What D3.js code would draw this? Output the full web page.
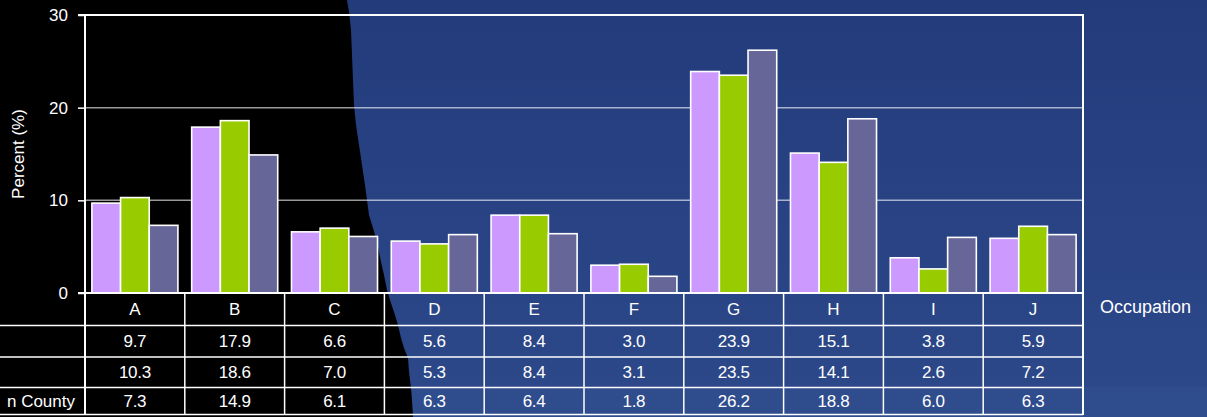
<!DOCTYPE html>
<html>
<head>
<meta charset="utf-8">
<script src="https://cdn.jsdelivr.net/npm/d3@7"></script>
<style>
  html, body { margin: 0; padding: 0; background: #243c7c; overflow: hidden; }
  svg text { font-family: "Liberation Sans", Arial, sans-serif; fill: #fff; }
</style>
</head>
<body>
<svg id="chart" width="1207" height="417"></svg>
<script>
// categories + series
const categories = ["A", "B", "C", "D", "E", "F", "G", "H", "I", "J"];
const seriesLabels = ["", "", "n County"];
const series1 = [9.7, 17.9, 6.6, 5.6, 8.4, 3.0, 23.9, 15.1, 3.8, 5.9];
const series2 = [10.3, 18.6, 7.0, 5.3, 8.4, 3.1, 23.5, 14.1, 2.6, 7.2];
const series3 = [7.3, 14.9, 6.1, 6.3, 6.4, 1.8, 26.2, 18.8, 6.0, 6.3];
const yTicks = [0, 10, 20, 30];
const seriesColors = ["#cc99ff", "#99cc00", "#666699"];

// torn edge of the black backdrop
const tearEdge = [
  [347, 0], [349, 12], [351, 30], [352, 55], [353, 80], [354, 105], [356, 125],
  [359, 145], [362, 165], [365, 185], [367, 200], [369, 215], [373, 228],
  [377, 242], [379, 252], [381, 262], [384, 275], [387, 290], [390, 300],
  [394, 312], [398, 325], [401, 338], [404, 348], [408, 358], [409, 372],
  [411, 388], [412, 400], [413, 417]
];

const allSeries = [series1, series2, series3];

const svg = d3.select("#chart");
const W = 1207, H = 417;

let defs = svg.append("defs");
let grad = defs.append("linearGradient")
  .attr("id", "bg")
  .attr("x1", 0).attr("y1", 0).attr("x2", 0).attr("y2", 1);
grad.append("stop").attr("offset", "0").attr("stop-color", "#233b7b");
grad.append("stop").attr("offset", "0.7").attr("stop-color", "#2a4586");
grad.append("stop").attr("offset", "0.925").attr("stop-color", "#2c4889");
grad.append("stop").attr("offset", "0.93").attr("stop-color", "#2f4c8d");
grad.append("stop").attr("offset", "1").attr("stop-color", "#2f4c8d");

svg.append("rect").attr("width", W).attr("height", H).attr("fill", "url(#bg)");

let blackPts = [[0, 0]].concat(tearEdge).concat([[0, H]]);
svg.append("path")
  .attr("d", d3.line()(blackPts) + "Z")
  .attr("fill", "#000");

// scales
const plotLeft = 85, plotRight = 1083, plotTop = 15, base = 293;
const x = d3.scaleBand().domain(categories).range([plotLeft, plotRight]).padding(0);
const xs = d3.scaleBand().domain([0, 1, 2]).range([0, x.bandwidth()])
  .paddingInner(0).paddingOuter(0.24);
const y = d3.scaleLinear().domain([0, 30]).range([base, plotTop]);

// gridlines
svg.append("g").selectAll("line")
  .data(yTicks.filter(t => t > 0 && t < 30))
  .enter().append("line")
  .attr("x1", plotLeft).attr("x2", plotRight)
  .attr("y1", d => y(d)).attr("y2", d => y(d))
  .attr("stroke", "#fff").attr("stroke-opacity", 0.6).attr("stroke-width", 1.5);

// bars
let groups = svg.append("g").selectAll("g")
  .data(categories)
  .enter().append("g")
  .attr("transform", d => "translate(" + x(d) + ",0)");

groups.selectAll("rect")
  .data((d, i) => allSeries.map((s, k) => ({ k: k, v: s[i] })))
  .enter().append("rect")
  .attr("x", d => xs(d.k))
  .attr("width", xs.bandwidth())
  .attr("y", d => y(d.v))
  .attr("height", d => base - y(d.v))
  .attr("fill", d => seriesColors[d.k])
  .attr("stroke", "#fff")
  .attr("stroke-width", 1.6);

// y axis
let yAxis = d3.axisLeft(y).tickValues(yTicks).tickSize(7).tickPadding(10);
let gy = svg.append("g").attr("transform", "translate(" + plotLeft + ",0)").call(yAxis);
gy.select(".domain").remove();
gy.selectAll("line").attr("stroke", "#fff").attr("stroke-width", 1.5);
gy.selectAll("text").attr("font-size", 17).attr("fill", "#fff")
  .style("font-family", "'Liberation Sans', Arial, sans-serif");

svg.append("text")
  .attr("transform", "translate(24," + ((plotTop + base) / 2) + ") rotate(-90)")
  .attr("text-anchor", "middle")
  .attr("font-size", 17)
  .text("Percent (%)");

// frame
svg.append("path")
  .attr("d", "M" + (plotLeft - 7) + "," + plotTop + "H" + plotRight + "V415")
  .attr("fill", "none").attr("stroke", "#fff").attr("stroke-width", 2);
svg.append("line")
  .attr("x1", plotLeft).attr("x2", plotLeft).attr("y1", plotTop).attr("y2", 415)
  .attr("stroke", "#fff").attr("stroke-width", 2);
svg.append("line")
  .attr("x1", plotLeft - 7).attr("x2", plotRight).attr("y1", base).attr("y2", base)
  .attr("stroke", "#fff").attr("stroke-width", 2);

// data table
const rowLines = [325.5, 357, 387.5, 414.5];
svg.append("g").selectAll("line")
  .data(rowLines)
  .enter().append("line")
  .attr("x1", 0).attr("x2", plotRight)
  .attr("y1", d => d).attr("y2", d => d)
  .attr("stroke", "#fff").attr("stroke-width", 1.5);

svg.append("g").selectAll("line")
  .data(categories.slice(1))
  .enter().append("line")
  .attr("x1", d => x(d)).attr("x2", d => x(d))
  .attr("y1", base).attr("y2", 415)
  .attr("stroke", "#fff").attr("stroke-width", 1.5);

svg.append("g").selectAll("text")
  .data(categories)
  .enter().append("text")
  .attr("x", d => x(d) + x.bandwidth() / 2)
  .attr("y", 309)
  .attr("dy", "0.35em")
  .attr("text-anchor", "middle")
  .attr("font-size", 17)
  .text(d => d);

const rowMid = [341.5, 372, 401];
allSeries.forEach((s, k) => {
  svg.append("g").selectAll("text")
    .data(s)
    .enter().append("text")
    .attr("x", (d, i) => x(categories[i]) + x.bandwidth() / 2)
    .attr("y", rowMid[k])
    .attr("dy", "0.35em")
    .attr("text-anchor", "middle")
    .attr("font-size", 17)
    .attr("letter-spacing", -0.3)
    .text(d => d.toFixed(1));
  svg.append("text")
    .attr("x", 75).attr("y", rowMid[k])
    .attr("dy", "0.35em")
    .attr("text-anchor", "end")
    .attr("font-size", 17)
    .text(seriesLabels[k]);
});

svg.append("text")
  .attr("x", 1100).attr("y", 307)
  .attr("dy", "0.35em")
  .attr("font-size", 18)
  .text("Occupation");
</script>
</body>
</html>
